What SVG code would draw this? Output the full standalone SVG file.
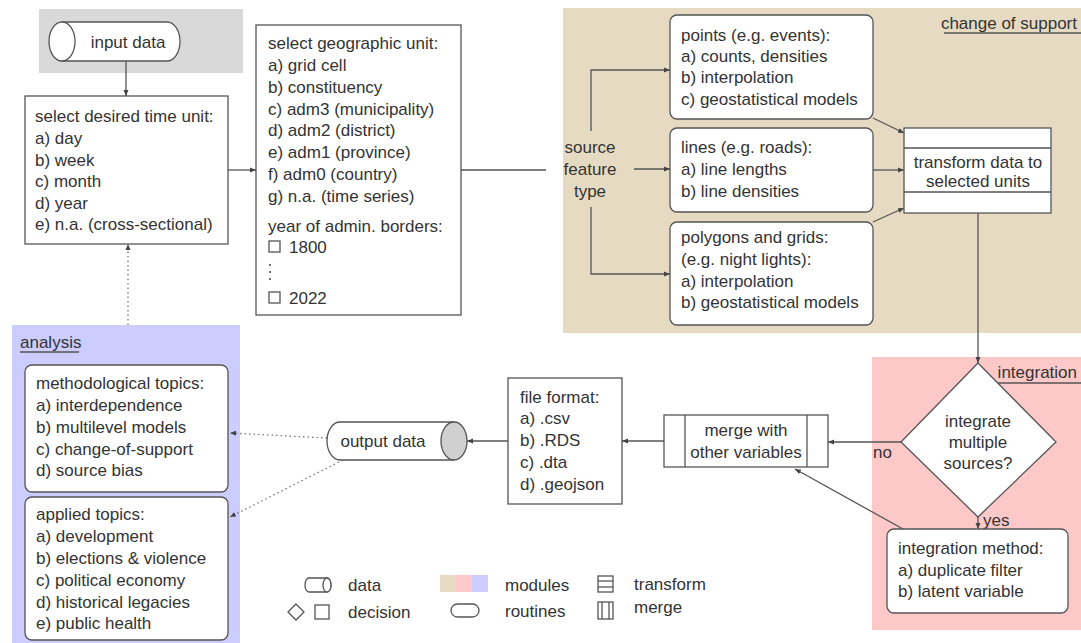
<svg xmlns="http://www.w3.org/2000/svg" width="1081" height="643" viewBox="0 0 1081 643">
<defs>
<style>
text{font-family:"Liberation Sans",Arial,sans-serif;font-size:17px;fill:#333;dominant-baseline:central}
.c{text-anchor:middle}
.r{text-anchor:end}
.box{fill:#fff;stroke:#555;stroke-width:1.3}
.ln{fill:none;stroke:#555;stroke-width:1.3}
.dot{fill:none;stroke:#777;stroke-width:1.3;stroke-dasharray:1.5 3}
.mod{stroke:none}
</style>
<marker id="ah" markerWidth="7" markerHeight="6" refX="6" refY="3" orient="auto" markerUnits="userSpaceOnUse">
<path d="M0,0.5 L6,3 L0,5.5 Z" fill="#444"/>
</marker>
</defs>
<rect width="1081" height="643" fill="#fff"/>

<!-- module backgrounds -->
<g id="modules">
<rect class="mod" x="39" y="9" width="204" height="64" fill="#d9d9d9"/>
<rect class="mod" x="563" y="8" width="518" height="325" fill="#e6dbc2"/>
<rect class="mod" x="872" y="357" width="209" height="273" fill="#fdc8c8"/>
<rect class="mod" x="12" y="325" width="228" height="318" fill="#ccccff"/>
<text class="r" x="1077" y="23">change of support</text>
<line class="ln" x1="944" y1="33" x2="1081" y2="33"/>
<text class="r" x="1077" y="372">integration</text>
<line class="ln" x1="996" y1="383" x2="1081" y2="383"/>
<text x="20" y="342">analysis</text>
<line class="ln" x1="20" y1="352" x2="79" y2="352"/>
</g>

<!-- connectors -->
<g id="connectors">
<line class="ln" x1="126" y1="61" x2="126" y2="96" marker-end="url(#ah)"/>
<line class="ln" x1="228" y1="170" x2="256" y2="170" marker-end="url(#ah)"/>
<line class="ln" x1="461" y1="170" x2="546" y2="170"/>
<path class="ln" d="M591,131 V70 H670" marker-end="url(#ah)"/>
<line class="ln" x1="634" y1="169" x2="670" y2="169" marker-end="url(#ah)"/>
<path class="ln" d="M591,207 V274 H670" marker-end="url(#ah)"/>
<line class="ln" x1="873" y1="118" x2="904" y2="133" marker-end="url(#ah)"/>
<line class="ln" x1="873" y1="170" x2="904" y2="170" marker-end="url(#ah)"/>
<line class="ln" x1="873" y1="222" x2="904" y2="208" marker-end="url(#ah)"/>
<line class="ln" x1="978" y1="213" x2="978" y2="363" marker-end="url(#ah)"/>
<line class="ln" x1="901" y1="442" x2="828" y2="442" marker-end="url(#ah)"/>
<text x="873" y="452">no</text>
<line class="ln" x1="978" y1="517" x2="978" y2="529" marker-end="url(#ah)"/>
<text x="983" y="520">yes</text>
<line class="ln" x1="903" y1="529" x2="795" y2="469" marker-end="url(#ah)"/>
<line class="ln" x1="664" y1="441" x2="622" y2="441" marker-end="url(#ah)"/>
<line class="ln" x1="508" y1="441" x2="467" y2="441" marker-end="url(#ah)"/>
<line class="dot" x1="327" y1="438" x2="230" y2="433" marker-end="url(#ah)"/>
<line class="dot" x1="343" y1="460" x2="230" y2="517" marker-end="url(#ah)"/>
<line class="dot" x1="128" y1="325" x2="128" y2="244" marker-end="url(#ah)"/>
</g>

<!-- input data -->
<g id="input-data">
<path class="box" d="M62,22 H167 A13,19.5 0 0 1 167,61 H62"/>
<ellipse class="box" cx="62" cy="41.5" rx="13" ry="19.5"/>
<text class="c" x="128" y="42">input data</text>
</g>

<!-- time unit -->
<g id="time-unit">
<rect class="box" x="25" y="96" width="203" height="148"/>
<text x="35" y="116">select desired time unit:</text>
<text x="35" y="138">a) day</text>
<text x="35" y="160">b) week</text>
<text x="35" y="181">c) month</text>
<text x="35" y="203">d) year</text>
<text x="35" y="224">e) n.a.  (cross-sectional)</text>
</g>

<!-- geographic unit -->
<g id="geo-unit">
<rect class="box" x="256" y="25" width="205" height="290"/>
<text x="268" y="43">select geographic unit:</text>
<text x="268" y="65">a) grid cell</text>
<text x="268" y="87">b) constituency</text>
<text x="268" y="109">c) adm3 (municipality)</text>
<text x="268" y="130">d) adm2 (district)</text>
<text x="268" y="152">e) adm1 (province)</text>
<text x="268" y="174">f) adm0 (country)</text>
<text x="268" y="196">g) n.a.  (time series)</text>
<text x="268" y="226">year of admin.  borders:</text>
<rect class="ln" x="269" y="241" width="11" height="11" stroke-width="1"/>
<text x="289" y="247">1800</text>
<circle cx="270" cy="265" r="1" fill="#444"/>
<circle cx="270" cy="272" r="1" fill="#444"/>
<circle cx="270" cy="279" r="1" fill="#444"/>
<rect class="ln" x="269" y="292" width="11" height="11" stroke-width="1"/>
<text x="289" y="298">2022</text>
</g>

<!-- source feature type -->
<g id="source-feature">
<text class="c" x="590" y="147">source</text>
<text class="c" x="590" y="169">feature</text>
<text class="c" x="590" y="191">type</text>
</g>

<g id="points">
<rect class="box" x="670" y="15" width="203" height="104" rx="7"/>
<text x="681" y="35">points (e.g.  events):</text>
<text x="681" y="56">a) counts, densities</text>
<text x="681" y="77">b) interpolation</text>
<text x="681" y="99">c) geostatistical models</text>
</g>

<g id="lines">
<rect class="box" x="670" y="128" width="203" height="84" rx="7"/>
<text x="681" y="147">lines (e.g.  roads):</text>
<text x="681" y="169">a) line lengths</text>
<text x="681" y="191">b) line densities</text>
</g>

<g id="polygons">
<rect class="box" x="670" y="222" width="203" height="103" rx="7"/>
<text x="681" y="237">polygons and grids:</text>
<text x="681" y="259">(e.g.  night lights):</text>
<text x="681" y="281">a) interpolation</text>
<text x="681" y="302">b) geostatistical models</text>
</g>

<g id="transform">
<rect class="box" x="904" y="128" width="147" height="85"/>
<line class="ln" x1="904" y1="148" x2="1051" y2="148"/>
<line class="ln" x1="904" y1="192" x2="1051" y2="192"/>
<text class="c" x="978" y="162">transform data to</text>
<text class="c" x="978" y="181">selected units</text>
</g>

<g id="decision">
<path class="box" d="M978,363 L1056,442 L978,517 L901,442 Z"/>
<text class="c" x="978" y="421">integrate</text>
<text class="c" x="978" y="442">multiple</text>
<text class="c" x="978" y="463">sources?</text>
</g>

<g id="integration-method">
<rect class="box" x="887" y="529" width="181" height="84" rx="7"/>
<text x="898" y="548">integration method:</text>
<text x="898" y="570">a) duplicate filter</text>
<text x="898" y="591">b) latent variable</text>
</g>

<g id="merge">
<rect class="box" x="664" y="415" width="164" height="52"/>
<line class="ln" x1="685" y1="415" x2="685" y2="467"/>
<line class="ln" x1="807" y1="415" x2="807" y2="467"/>
<text class="c" x="746" y="430">merge with</text>
<text class="c" x="746" y="452">other variables</text>
</g>

<g id="file-format">
<rect class="box" x="508" y="378" width="114" height="126"/>
<text x="520" y="397">file format:</text>
<text x="520" y="418">a) .csv</text>
<text x="520" y="440">b) .RDS</text>
<text x="520" y="462">c) .dta</text>
<text x="520" y="484">d) .geojson</text>
</g>

<g id="output-data">
<path class="box" d="M454,422 H340 A13,19 0 0 0 340,460 H454"/>
<ellipse cx="454" cy="441" rx="13" ry="19" fill="#d0d0d0" stroke="#555" stroke-width="1.3"/>
<text class="c" x="383" y="441">output data</text>
</g>

<g id="methodological">
<rect class="box" x="25" y="365" width="203" height="127" rx="7"/>
<text x="36" y="383">methodological topics:</text>
<text x="36" y="405">a) interdependence</text>
<text x="36" y="427">b) multilevel models</text>
<text x="36" y="449">c) change-of-support</text>
<text x="36" y="470">d) source bias</text>
</g>

<g id="applied">
<rect class="box" x="25" y="497" width="203" height="143" rx="7"/>
<text x="36" y="514">applied topics:</text>
<text x="36" y="536">a) development</text>
<text x="36" y="558">b) elections &amp; violence</text>
<text x="36" y="580">c) political economy</text>
<text x="36" y="602">d) historical legacies</text>
<text x="36" y="623">e) public health</text>
</g>

<!-- legend -->
<g id="legend">
<path class="box" d="M309,578 H327 A4,7 0 0 1 327,592 H309 A4,7 0 0 1 309,578 Z" stroke-width="1.1"/>
<ellipse class="box" cx="327" cy="585" rx="4" ry="7" stroke-width="1.1"/>
<text x="348" y="585">data</text>
<path class="box" d="M296,604 L304,612 L296,620 L288,612 Z" stroke-width="1.1"/>
<rect class="box" x="315" y="605" width="14" height="14" stroke-width="1.1"/>
<text x="348" y="612">decision</text>
<rect x="440" y="575" width="16" height="17" fill="#e6dbc2"/>
<rect x="456" y="575" width="16" height="17" fill="#fdc8c8"/>
<rect x="472" y="575" width="16" height="17" fill="#ccccff"/>
<text x="505" y="585">modules</text>
<rect class="box" x="451" y="604" width="28" height="13" rx="6.5" stroke-width="1.1"/>
<text x="505" y="611">routines</text>
<rect class="box" x="598" y="576" width="15" height="16" stroke-width="1.1"/>
<line class="ln" x1="598" y1="581" x2="613" y2="581" stroke-width="1.1"/>
<line class="ln" x1="598" y1="587" x2="613" y2="587" stroke-width="1.1"/>
<text x="634" y="584">transform</text>
<rect class="box" x="598" y="602" width="15" height="17" stroke-width="1.1"/>
<line class="ln" x1="602" y1="602" x2="602" y2="619" stroke-width="1.1"/>
<line class="ln" x1="609" y1="602" x2="609" y2="619" stroke-width="1.1"/>
<text x="634" y="607">merge</text>
</g>
</svg>
